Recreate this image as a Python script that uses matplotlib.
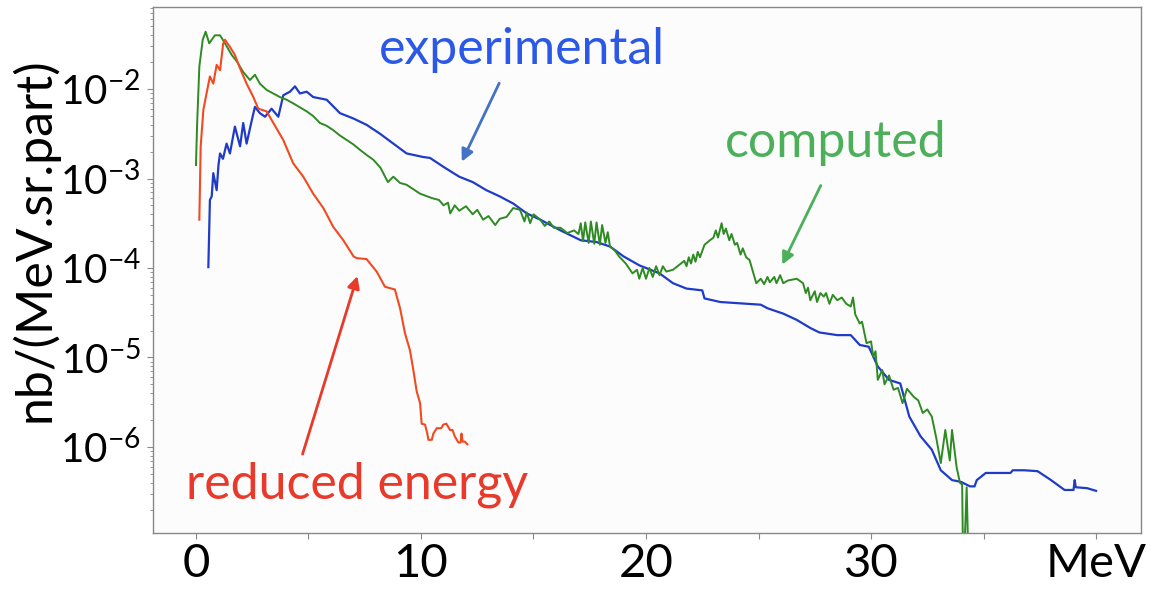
import numpy as np
import matplotlib
matplotlib.use('Agg')
import matplotlib.pyplot as plt
from matplotlib.ticker import LogLocator, FixedLocator, FixedFormatter, NullFormatter

plt.rcParams['font.family'] = ['Lato', 'DejaVu Sans']
plt.rcParams['mathtext.fontset'] = 'custom'
plt.rcParams['mathtext.rm'] = 'Lato'
plt.rcParams['mathtext.it'] = 'Lato'

# computed spectrum (MeV, log10 of nb/(MeV.sr.part))
comp_e = [0.0, 0.05, 0.15, 0.3, 0.43, 0.59, 0.84, 1.07, 1.29, 1.59, 1.81, 2.1, 2.4, 2.62, 2.84,
          3.14, 3.44, 3.73, 4.03, 4.32, 4.92, 5.2, 5.51, 5.8, 6.1, 6.4, 6.7, 7.0, 7.29, 7.6, 7.88,
          8.2, 8.53, 8.77, 9.07, 9.36, 9.96, 10.5, 10.8, 11.0, 11.2, 11.3, 11.5, 11.7, 12.0, 12.3,
          12.5, 12.76, 13.0, 13.3, 13.5, 13.8, 14.1, 14.4, 14.6, 14.7, 14.85, 15.0, 15.3, 15.5,
          15.7, 15.9, 16.2, 16.5, 16.8, 17.0, 17.1, 17.2, 17.3, 17.45, 17.55, 17.7, 17.8, 17.95,
          18.05, 18.2, 18.3, 18.4, 18.6, 18.8, 19.1, 19.4, 19.6, 19.7, 19.85, 20.0, 20.15, 20.3,
          20.45, 20.6, 20.75, 20.9, 21.2, 21.5, 21.7, 21.8, 21.9, 22.0, 22.1, 22.2, 22.3, 22.4,
          22.6, 22.84, 23.0, 23.1, 23.2, 23.36, 23.45, 23.55, 23.7, 23.8, 23.95, 24.05, 24.2,
          24.3, 24.45, 24.6, 24.9, 25.1, 25.25, 25.4, 25.5, 25.7, 25.8, 25.96, 26.1, 26.3, 26.7,
          26.98, 27.1, 27.2, 27.3, 27.5, 27.6, 27.75, 27.9, 28.0, 28.15, 28.3, 28.5, 28.7, 28.9,
          29.1, 29.2, 29.3, 29.5, 29.6, 29.8, 30.0, 30.1, 30.2, 30.3, 30.5, 30.6, 30.8, 31.0,
          31.2, 31.4, 31.6, 31.9, 32.1, 32.3, 32.5, 32.7, 32.9, 33.1, 33.3, 33.5, 33.6, 33.8,
          33.95, 34.05, 34.1, 34.25, 34.35]
comp_log = [-2.85, -2.4, -1.75, -1.45, -1.36, -1.49, -1.40, -1.40, -1.49, -1.62, -1.69, -1.81,
            -1.90, -1.84, -1.94, -2.01, -2.05, -2.09, -2.12, -2.16, -2.25, -2.30, -2.38, -2.41,
            -2.46, -2.52, -2.57, -2.62, -2.68, -2.74, -2.79, -2.88, -3.04, -2.98, -3.05, -3.07,
            -3.17, -3.22, -3.24, -3.30, -3.27, -3.39, -3.30, -3.36, -3.31, -3.40, -3.35, -3.46,
            -3.42, -3.52, -3.45, -3.43, -3.33, -3.35, -3.48, -3.38, -3.50, -3.40, -3.46, -3.53,
            -3.48, -3.55, -3.55, -3.61, -3.58, -3.62, -3.50, -3.70, -3.49, -3.72, -3.48, -3.73,
            -3.49, -3.74, -3.52, -3.72, -3.60, -3.76, -3.80, -3.87, -3.95, -4.06, -4.02, -4.12,
            -4.00, -4.12, -4.00, -4.10, -3.98, -4.08, -3.98, -4.04, -4.02, -3.96, -3.92, -3.98,
            -3.88, -3.95, -3.85, -3.93, -3.82, -3.88, -3.74, -3.69, -3.66, -3.58, -3.66, -3.50,
            -3.62, -3.56, -3.69, -3.62, -3.74, -3.72, -3.85, -3.78, -3.88, -3.91, -4.17, -4.12,
            -4.18, -4.10, -4.16, -4.10, -4.17, -4.08, -4.17, -4.14, -4.12, -4.17, -4.28, -4.22,
            -4.36, -4.26, -4.38, -4.28, -4.32, -4.28, -4.40, -4.30, -4.36, -4.33, -4.40, -4.43,
            -4.33, -4.52, -4.62, -4.60, -4.84, -4.82, -4.99, -4.93, -5.25, -5.14, -5.30, -5.20,
            -5.36, -5.34, -5.51, -5.35, -5.44, -5.48, -5.62, -5.58, -5.66, -5.90, -6.18, -5.81,
            -6.15, -5.81, -6.22, -6.40, -6.42, -7.5, -6.45, -7.5]

# experimental spectrum
exp_e = [0.55, 0.62, 0.70, 0.77, 0.92, 1.0, 1.07, 1.2, 1.36, 1.51, 1.73, 1.96, 2.1, 2.25, 2.48,
         2.62, 2.84, 3.07, 3.36, 3.66, 3.88, 4.18, 4.4, 4.62, 4.92, 5.21, 5.81, 6.4, 7.0, 7.58,
         8.18, 8.77, 9.36, 10.1, 10.4, 11.0, 11.7, 12.3, 12.9, 13.5, 14.1, 14.7, 15.3, 16.2,
         17.1, 17.8, 18.4, 19.0, 19.7, 20.6, 21.2, 21.8, 22.5, 22.6, 23.3, 23.9, 25.1, 25.4,
         26.1, 26.7, 27.3, 27.7, 28.5, 29.1, 29.5, 29.9, 30.3, 30.8, 31.3, 31.7, 32.2, 32.7,
         33.1, 33.6, 34.0, 34.4, 34.6, 34.7, 35.1, 36.2, 36.3, 36.8, 37.4, 38.0, 38.6, 39.0,
         39.05, 39.1, 39.6, 40.0]
exp_log = [-3.99, -3.24, -3.20, -2.94, -3.13, -2.85, -2.72, -2.78, -2.61, -2.72, -2.42, -2.64,
           -2.38, -2.61, -2.35, -2.20, -2.27, -2.31, -2.22, -2.31, -2.07, -2.03, -1.97, -2.05,
           -2.03, -2.09, -2.12, -2.27, -2.33, -2.40, -2.50, -2.61, -2.72, -2.76, -2.77, -2.87,
           -2.98, -3.04, -3.13, -3.20, -3.28, -3.39, -3.46, -3.58, -3.69, -3.71, -3.76, -3.87,
           -3.97, -4.06, -4.17, -4.23, -4.25, -4.34, -4.38, -4.39, -4.41, -4.45, -4.51, -4.58,
           -4.67, -4.72, -4.75, -4.75, -4.86, -4.88, -5.10, -5.25, -5.29, -5.66, -5.88, -6.03,
           -6.26, -6.37, -6.39, -6.44, -6.44, -6.37, -6.29, -6.29, -6.26, -6.26, -6.27, -6.37,
           -6.48, -6.48, -6.37, -6.45, -6.46, -6.49]

# reduced energy computation
red_e = [0.15, 0.21, 0.33, 0.47, 0.62, 0.77, 0.92, 1.07, 1.21, 1.29, 1.51, 1.73, 1.96, 2.25,
         2.55, 2.77, 3.14, 3.44, 3.88, 4.32, 4.77, 5.21, 5.66, 6.1, 6.55, 7.0, 7.14, 7.58, 8.03,
         8.4, 8.84, 9.07, 9.29, 9.51, 9.66, 9.81, 9.96, 10.03, 10.18, 10.28, 10.33, 10.48,
         10.55, 10.7, 10.9, 10.99, 11.13, 11.29, 11.4, 11.5, 11.66, 11.76, 11.8, 11.85, 11.95,
         12.06]
red_log = [-3.46, -2.64, -2.23, -2.05, -1.86, -1.94, -1.73, -1.79, -1.49, -1.45, -1.53, -1.62,
           -1.77, -1.94, -2.09, -2.22, -2.25, -2.38, -2.57, -2.83, -2.98, -3.17, -3.33, -3.54,
           -3.69, -3.87, -3.89, -3.90, -4.04, -4.21, -4.24, -4.45, -4.73, -4.92, -5.14, -5.38,
           -5.51, -5.74, -5.75, -5.85, -5.92, -5.92, -5.85, -5.79, -5.79, -5.75, -5.74, -5.81,
           -5.81, -5.88, -5.95, -5.95, -5.85, -5.94, -5.94, -5.97]

xticks = [0, 5, 10, 15, 20, 25, 30, 35, 40]
xticklabels = ['0', '', '10', '', '20', '', '30', '', 'MeV']

fig = plt.figure(figsize=(11.52, 5.90), dpi=100)
ax = fig.add_axes([0.1328, 0.0966, 0.8577, 0.8915])
ax.set_facecolor('#fcfcfc')

ax.plot(exp_e, 10 ** np.array(exp_log), color='#1f3cc8', lw=1.6)
ax.plot(comp_e, 10 ** np.array(comp_log), color='#2e8a22', lw=1.4)
ax.plot(red_e, 10 ** np.array(red_log), color='#f24a20', lw=1.5)

ax.set_yscale('log')
ax.set_xlim(-1.91, 42.0)
ax.set_ylim(10 ** -6.961, 10 ** -1.084)

ax.xaxis.set_major_locator(FixedLocator(xticks))
ax.xaxis.set_major_formatter(FixedFormatter(xticklabels))
ax.yaxis.set_major_locator(LogLocator(base=10, numticks=10))
ax.yaxis.set_minor_locator(LogLocator(base=10, subs=np.arange(2, 10), numticks=20))
ax.yaxis.set_minor_formatter(NullFormatter())
ax.tick_params(axis='both', which='major', length=4, width=0.8, color='#888888')
ax.tick_params(axis='x', which='major', labelsize=34, pad=3)
ax.tick_params(axis='y', which='major', labelsize=29, pad=5)
ax.tick_params(axis='y', which='minor', length=2.5, width=0.6, color='#888888')
for s in ax.spines.values():
    s.set_color('#888888')
    s.set_linewidth(1.0)

ax.set_ylabel('nb/(MeV.sr.part)', fontsize=36)
ax.yaxis.set_label_coords(-0.096, 0.557)

ax.text(14.5, 10 ** -1.564, 'experimental', color='#2b58e6', fontsize=36,
        ha='center', va='center')
ax.annotate('', xy=(11.76, 10 ** -2.84), xytext=(13.53, 10 ** -1.907),
            arrowprops=dict(arrowstyle='-|>', color='#4472c4', lw=2, mutation_scale=18))
ax.text(28.44, 10 ** -2.60, 'computed', color='#4caf5a', fontsize=36,
        ha='center', va='center')
ax.annotate('', xy=(26.0, 10 ** -3.99), xytext=(27.82, 10 ** -3.05),
            arrowprops=dict(arrowstyle='-|>', color='#4caf5a', lw=2, mutation_scale=18))
ax.text(7.16, 10 ** -6.42, 'reduced energy', color='#e8392a', fontsize=36,
        ha='center', va='center')
ax.annotate('', xy=(7.21, 10 ** -4.06), xytext=(4.70, 10 ** -6.11),
            arrowprops=dict(arrowstyle='-|>', color='#e8392a', lw=2, mutation_scale=18))

fig.savefig('out.png', dpi=100)
